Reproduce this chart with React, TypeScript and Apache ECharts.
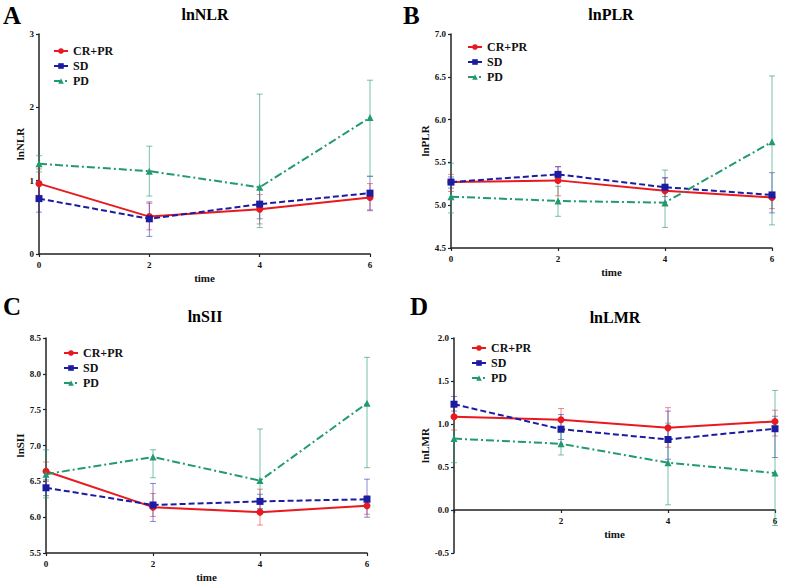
import React, { useEffect, useRef } from "react";
import * as echarts from "echarts";

const times = [0, 2, 4, 6];
const groups = ["CR+PR", "SD", "PD"];

// Panel A: lnNLR
const nlrCrpr = [0.96, 0.51, 0.61, 0.77];
const nlrCrprLow = [0.8, 0.33, 0.41, 0.59];
const nlrCrprHigh = [1.16, 0.69, 0.81, 0.96];
const nlrSd = [0.755, 0.48, 0.68, 0.83];
const nlrSdLow = [0.57, 0.24, 0.48, 0.6];
const nlrSdHigh = [0.94, 0.71, 0.88, 1.06];
const nlrPd = [1.23, 1.13, 0.91, 1.86];
const nlrPdLow = [1.12, 0.79, 0.36, 1.06];
const nlrPdHigh = [1.34, 1.47, 2.18, 2.37];

// Panel B: lnPLR
const plrCrpr = [5.27, 5.29, 5.17, 5.09];
const plrCrprLow = [5.16, 5.11, 4.99, 4.96];
const plrCrprHigh = [5.36, 5.45, 5.32, 5.14];
const plrSd = [5.27, 5.36, 5.21, 5.12];
const plrSdLow = [5.2, 5.27, 5.1, 4.91];
const plrSdHigh = [5.33, 5.45, 5.32, 5.38];
const plrPd = [5.1, 5.05, 5.03, 5.74];
const plrPdLow = [4.91, 4.87, 4.74, 4.77];
const plrPdHigh = [5.49, 5.22, 5.41, 6.51];

// Panel C: lnSII
const siiCrpr = [6.64, 6.14, 6.07, 6.16];
const siiCrprLow = [6.5, 6.01, 5.89, 6.04];
const siiCrprHigh = [6.77, 6.33, 6.39, 6.3];
const siiSd = [6.41, 6.17, 6.22, 6.25];
const siiSdLow = [6.3, 5.94, 6.12, 6.0];
const siiSdHigh = [6.52, 6.47, 6.32, 6.53];
const siiPd = [6.6, 6.84, 6.51, 7.59];
const siiPdLow = [6.27, 6.55, 6.2, 6.69];
const siiPdHigh = [6.94, 6.94, 7.23, 8.23];

// Panel D: lnLMR
const lmrCrpr = [1.085, 1.05, 0.955, 1.03];
const lmrCrprLow = [0.93, 0.92, 0.73, 0.86];
const lmrCrprHigh = [1.24, 1.18, 1.19, 1.16];
const lmrSd = [1.23, 0.94, 0.82, 0.945];
const lmrSdLow = [1.15, 0.82, 0.59, 0.61];
const lmrSdHigh = [1.32, 1.11, 1.15, 1.09];
const lmrPd = [0.83, 0.77, 0.55, 0.43];
const lmrPdLow = [0.55, 0.64, 0.06, -0.18];
const lmrPdHigh = [1.1, 0.9, 1.01, 1.39];

const yTicksA = { min: 0, max: 3, interval: 1 };
const yTicksB = { min: 4.5, max: 7.0, interval: 0.5 };
const yTicksC = { min: 5.5, max: 8.5, interval: 0.5 };
const yTicksD = { min: -0.5, max: 2.0, interval: 0.5 };

const FONT = '"Liberation Serif", "Times New Roman", serif';
const COLORS = ["#e8191f", "#1c1ca3", "#229a70"];
const ERR_COLORS = ["rgba(232,25,31,0.5)", "rgba(40,40,190,0.55)", "rgba(34,154,112,0.6)"];
const SYMBOLS = ["circle", "rect", "triangle"];
const LINE_TYPES: any[] = ["solid", [6, 3], [8, 3, 2, 3]];

const panels = [
  {
    letter: "A", title: "lnNLR", yName: "lnNLR", ticks: yTicksA, dec: 0,
    grid: { left: 39, top: 34, width: 331, height: 220 }, nameGap: 11,
    legend: { left: 53, top: 45 }, letterPos: [3, 15], titlePos: [205, 14],
    vals: [nlrCrpr, nlrSd, nlrPd], lows: [nlrCrprLow, nlrSdLow, nlrPdLow], highs: [nlrCrprHigh, nlrSdHigh, nlrPdHigh],
  },
  {
    letter: "B", title: "lnPLR", yName: "lnPLR", ticks: yTicksB, dec: 1,
    grid: { left: 451, top: 34, width: 321, height: 214 }, nameGap: 20,
    legend: { left: 467, top: 41 }, letterPos: [403, 15], titlePos: [611, 14],
    vals: [plrCrpr, plrSd, plrPd], lows: [plrCrprLow, plrSdLow, plrPdLow], highs: [plrCrprHigh, plrSdHigh, plrPdHigh],
  },
  {
    letter: "C", title: "lnSII", yName: "lnSII", ticks: yTicksC, dec: 1,
    grid: { left: 46, top: 338, width: 321, height: 215 }, nameGap: 18,
    legend: { left: 63, top: 347 }, letterPos: [3, 306], titlePos: [205, 316],
    vals: [siiCrpr, siiSd, siiPd], lows: [siiCrprLow, siiSdLow, siiPdLow], highs: [siiCrprHigh, siiSdHigh, siiPdHigh],
  },
  {
    letter: "D", title: "lnLMR", yName: "lnLMR", ticks: yTicksD, dec: 1,
    grid: { left: 454, top: 338, width: 321, height: 215 }, nameGap: 23,
    legend: { left: 471, top: 342 }, letterPos: [410, 306], titlePos: [615, 317],
    vals: [lmrCrpr, lmrSd, lmrPd], lows: [lmrCrprLow, lmrSdLow, lmrPdLow], highs: [lmrCrprHigh, lmrSdHigh, lmrPdHigh],
    hideZeroX: true, xOffset: -43,
  },
];

function buildOption() {
  const grid: any[] = [];
  const xAxis: any[] = [];
  const yAxis: any[] = [];
  const legend: any[] = [];
  const series: any[] = [];
  const graphic: any[] = [];
  const mkLine = () => ({ show: true, onZero: false, lineStyle: { color: "#222", width: 1.5 } });
  const mkTick = () => ({ show: true, length: 3, lineStyle: { color: "#222", width: 1.2 } });

  panels.forEach((p: any, pi) => {
    grid.push({ ...p.grid });
    xAxis.push({
      type: "value", gridIndex: pi, min: 0, max: 6, interval: 2, offset: p.xOffset || 0,
      name: "time", nameLocation: "middle", nameGap: 18,
      nameTextStyle: { fontFamily: FONT, fontWeight: "bold", fontSize: 11, color: "#111" },
      axisLine: mkLine(), axisTick: mkTick(), splitLine: { show: false },
      axisLabel: {
        fontFamily: FONT, fontWeight: "bold", fontSize: 9, color: "#111", margin: 6,
        formatter: (v: number) => (p.hideZeroX && v === 0 ? "" : String(v)),
      },
    });
    yAxis.push({
      type: "value", gridIndex: pi, min: p.ticks.min, max: p.ticks.max, interval: p.ticks.interval,
      name: p.yName, nameLocation: "middle", nameGap: p.nameGap, nameRotate: 90,
      nameTextStyle: { fontFamily: FONT, fontWeight: "bold", fontSize: 11, color: "#111" },
      axisLine: mkLine(), axisTick: mkTick(), splitLine: { show: false },
      axisLabel: {
        fontFamily: FONT, fontWeight: "bold", fontSize: 9, color: "#111", margin: 5,
        formatter: (v: number) => v.toFixed(p.dec),
      },
    });
    legend.push({
      orient: "vertical", left: p.legend.left, top: p.legend.top, padding: 0,
      data: groups, itemWidth: 14, itemHeight: 7, itemGap: 3,
      textStyle: { fontFamily: FONT, fontWeight: "bold", fontSize: 12, color: "#111", lineHeight: 12 },
    });
    groups.forEach((g, gi) => {
      const errData = times.map((t, i) => [t, p.lows[gi][i], p.highs[gi][i]]);
      series.push({
        type: "custom", name: g + " error " + p.letter, xAxisIndex: pi, yAxisIndex: pi,
        data: errData, encode: { x: 0, y: [1, 2] }, z: 1, silent: true,
        renderItem: (params: any, api: any) => {
          const x = api.value(0);
          const a = api.coord([x, api.value(1)]);
          const b = api.coord([x, api.value(2)]);
          const c = ERR_COLORS[gi];
          const w = 3;
          return {
            type: "group",
            children: [
              { type: "line", shape: { x1: a[0], y1: a[1], x2: b[0], y2: b[1] }, style: { stroke: c, lineWidth: 1 } },
              { type: "line", shape: { x1: a[0] - w, y1: a[1], x2: a[0] + w, y2: a[1] }, style: { stroke: c, lineWidth: 1 } },
              { type: "line", shape: { x1: b[0] - w, y1: b[1], x2: b[0] + w, y2: b[1] }, style: { stroke: c, lineWidth: 1 } },
            ],
          };
        },
      });
      series.push({
        type: "line", name: g, xAxisIndex: pi, yAxisIndex: pi,
        data: times.map((t, i) => [t, p.vals[gi][i]]),
        symbol: SYMBOLS[gi], symbolSize: 7, showSymbol: true,
        lineStyle: { color: COLORS[gi], width: 2, type: LINE_TYPES[gi] },
        itemStyle: { color: COLORS[gi] }, z: 3,
      });
    });
    graphic.push({
      type: "text", x: p.letterPos[0], y: p.letterPos[1],
      style: { text: p.letter, fontFamily: FONT, fontWeight: "bold", fontSize: 25, fill: "#000", verticalAlign: "middle" },
    });
    graphic.push({
      type: "text", x: p.titlePos[0], y: p.titlePos[1],
      style: { text: p.title, fontFamily: FONT, fontWeight: "bold", fontSize: 16, fill: "#000", align: "center", verticalAlign: "middle" },
    });
  });

  return { animation: false, backgroundColor: "#fff", grid, xAxis, yAxis, legend, series, graphic };
}

export default function App() {
  const ref = useRef<HTMLDivElement>(null);
  useEffect(() => {
    if (!ref.current) return;
    const chart = echarts.init(ref.current, null, { renderer: "svg" });
    chart.setOption(buildOption() as any);
    return () => chart.dispose();
  }, []);
  return <div ref={ref} style={{ position: "fixed", left: 0, top: 0, width: 786, height: 585, background: "#fff" }} />;
}
